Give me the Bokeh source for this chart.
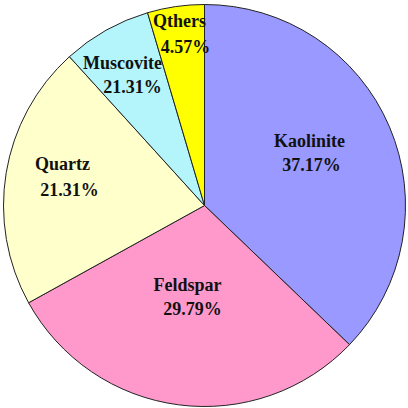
import numpy as np
from bokeh.plotting import figure
from bokeh.models import Range1d, ColumnDataSource
from bokeh.core.properties import value
from bokeh.embed import file_html
from bokeh.resources import INLINE

# ---- data ----
minerals = ["Kaolinite", "Feldspar", "Quartz", "Muscovite", "Qthers"]
shown_pct = ["37.17%", "29.79%", "21.31%", "21.31%", "4.57%"]
shares = [37.17, 29.79, 21.31, 7.16, 4.57]
colors = ["#9999FF", "#FF99CC", "#FFFFCC", "#B4F5FC", "#FFFF00"]

# ---- layout (pixel positions of label centres) ----
name_px = [(309, 140), (187, 284), (62, 163), (122, 62), (179, 20)]
pct_px = [(311, 164), (192, 308), (69, 189), (132, 86), (185, 46)]
cx_px, cy_px, r_px = 204, 205, 201
W = 408


def to_data(px, py):
    return px, W - py


p = figure(width=W, height=W, output_backend="svg", toolbar_location=None,
           x_range=Range1d(0, W), y_range=Range1d(0, W), min_border=0)
p.axis.visible = False
p.grid.visible = False
p.outline_line_color = None
p.background_fill_color = "white"

vals = np.array(shares, dtype=float)
cum = np.concatenate([[0], np.cumsum(vals)]) / vals.sum()
start = np.pi / 2 - 2 * np.pi * cum[:-1]
end = np.pi / 2 - 2 * np.pi * cum[1:]
cx, cy = to_data(cx_px, cy_px)
src = ColumnDataSource(dict(start=start, end=end, color=colors))
p.wedge(x=cx, y=cy, radius=r_px, start_angle="start", end_angle="end",
        direction="clock", fill_color="color", line_color="#222222",
        line_width=1, source=src)

nx, ny = zip(*[to_data(a, b) for a, b in name_px])
qx, qy = zip(*[to_data(a, b) for a, b in pct_px])
p.text(x=list(nx), y=list(ny), text=minerals, text_font=value("Liberation Serif"),
       text_font_style="bold", text_font_size="18px", text_color="#111111",
       text_align="center", text_baseline="middle")
p.text(x=list(qx), y=list(qy), text=shown_pct, text_font=value("Liberation Serif"),
       text_font_style="bold", text_font_size="18px", text_color="#111111",
       text_align="center", text_baseline="middle")

open("out.html", "w").write(file_html(p, INLINE))
